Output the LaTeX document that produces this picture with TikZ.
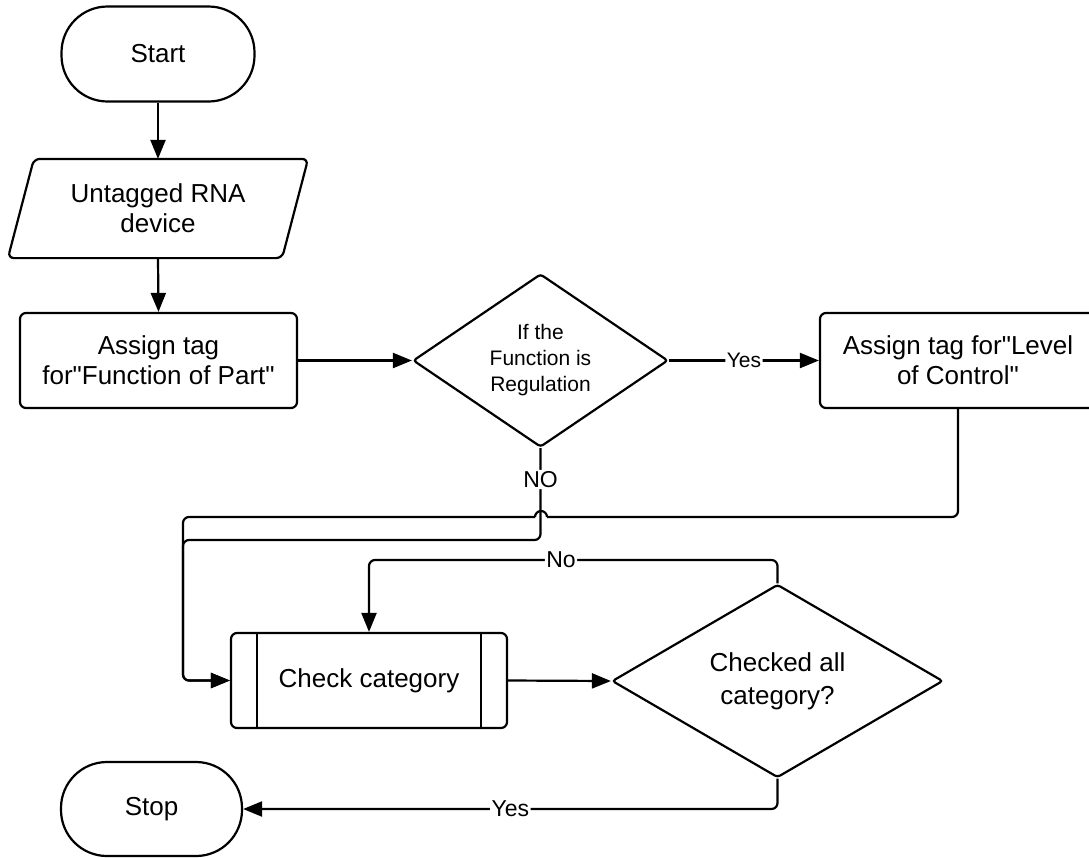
\documentclass[tikz,border=0pt]{standalone}
\usepackage{fontspec}
\setmainfont{Liberation Sans}[Ligatures=TeXOff]
\usetikzlibrary{shapes.geometric,arrows.meta,calc}
\begin{document}
\begin{tikzpicture}[x=1pt,y=-1pt,
  line width=2.2pt,
  every node/.style={font=\fontsize{26}{30}\selectfont, align=center},
  term/.style={draw, rectangle, rounded corners=46pt, minimum width=193pt, minimum height=95pt},
  procbox/.style={draw, rectangle, rounded corners=6pt, minimum width=277pt, minimum height=95pt, inner sep=2pt},
  decide/.style={draw, diamond, rounded corners=3pt, inner sep=0pt},
  flow/.style={-{Triangle[length=19pt,width=15pt]}, rounded corners=6pt},
  lbl/.style={fill=white, inner sep=1.5pt, font=\fontsize{23}{26}\selectfont},
]
\useasboundingbox (0,0) rectangle (1089,857);
\clip (0,0) rectangle (1089,857);

% nodes
\node[term] (start) at (158,54) {Start};
\node[minimum width=272pt, minimum height=97pt] (inp) at (158,208.5) {Untagged RNA\\device};
\draw[rounded corners=6pt] ($(inp.north west)+(13,0)$) -- ($(inp.north east)+(13,0)$) -- ($(inp.south east)+(-13,0)$) -- ($(inp.south west)+(-13,0)$) -- cycle;
\node[procbox] (r1) at (158.5,360.5) {Assign tag\\for"Function of Part"};
\node[decide, minimum width=255pt, minimum height=165pt, font=\fontsize{21}{26}\selectfont] (d1) at (540.5,360.5) {If the\\Function is\\Regulation};
\node[procbox, minimum width=276pt] (r2) at (958,360.5) {Assign tag for"Level\\of Control"};
\node[procbox, minimum width=276pt] (cc) at (369,680.5) {Check category};
\draw[line width=1.6pt] ($(cc.north west)+(27,0)$) -- ($(cc.south west)+(27,0)$);
\draw[line width=1.6pt] ($(cc.north east)+(-27,0)$) -- ($(cc.south east)+(-27,0)$);
\node[decide, minimum width=331pt, minimum height=142pt, font=\fontsize{26}{33}\selectfont] (d2) at (777.5,681) {Checked all\\category?};
\node[term, minimum width=181pt, minimum height=94pt] (stop) at (151.5,809) {Stop};

% helper coordinates
\coordinate (lft) at (183,540);
\coordinate (jr) at (547,517);
\coordinate (jl) at (535,517);
\coordinate (tl) at (183,517);
\coordinate (lp) at (369,560);

% connectors
\draw[flow] (start.south) -- (inp.north);
\draw[flow] (inp.south) -- (r1.north);
\draw[flow] (r1.east) -- (d1.west);
\draw[flow] (d1.east) -- node[lbl, font=\fontsize{21}{24}\selectfont]{Yes} (r2.west);
\draw[flow] (d1.south) -- node[lbl, pos=0.34]{NO} (d1.south |- lft) -- (lft) |- (cc.west);
\draw[rounded corners=6pt] (r2.south) |- (jr);
\draw (jr) arc[start angle=0, end angle=-180, radius=6];
\draw[flow] (jl) -- (tl) |- (cc.west);
\draw[flow] (cc.east) -- (d2.west);
\draw[flow] (d2.north) -- (d2.north |- lp) -- node[lbl, pos=0.53]{No} (lp) -- (cc.north);
\draw[flow] (d2.south) -- (d2.south |- stop.east) -- node[lbl]{Yes} (stop.east);
\end{tikzpicture}
\end{document}
